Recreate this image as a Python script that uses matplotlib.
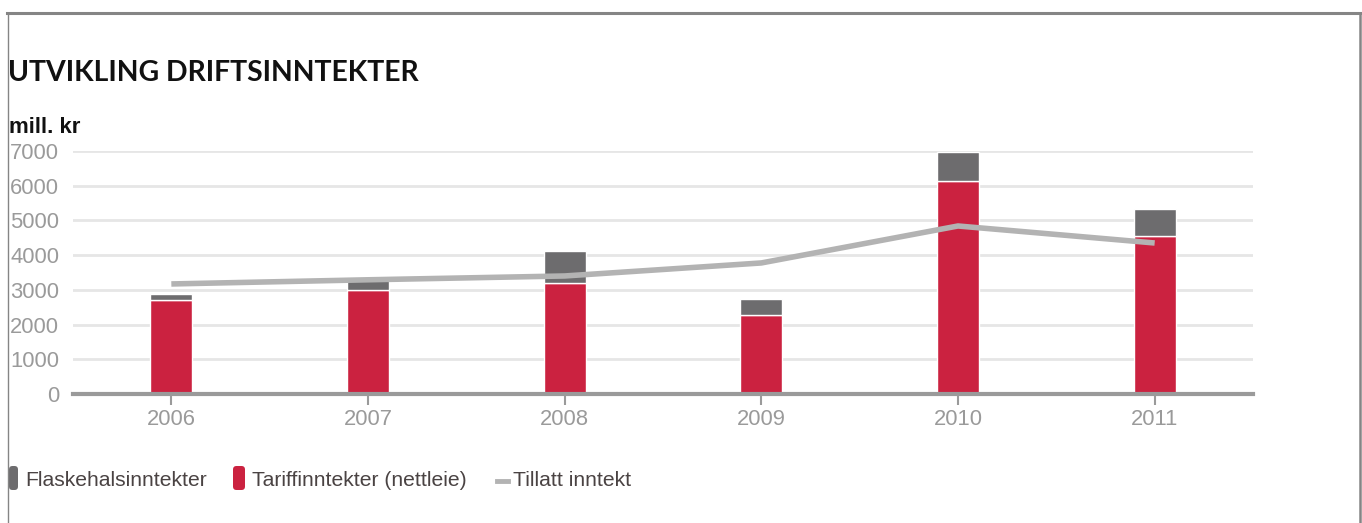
import matplotlib
matplotlib.use("Agg")
import matplotlib.pyplot as plt
from matplotlib.patches import FancyBboxPatch
from matplotlib.lines import Line2D
from matplotlib.transforms import Affine2D

years = ["2006", "2007", "2008", "2009", "2010", "2011"]
tariff = [2700, 3000, 3200, 2280, 6140, 4550]          # Tariffinntekter (nettleie)
flaskehals = [180, 310, 920, 460, 830, 780]           # Flaskehalsinntekter
tillatt = [3170, 3290, 3400, 3775, 4840, 4350]        # Tillatt inntekt
yticks = [0, 1000, 2000, 3000, 4000, 5000, 6000, 7000]

RED = "#cb2240"
DARK = "#6d6c6e"
LINE = "#b3b3b3"
GRID = "#e6e6e6"
AXIS = "#9a9a9a"
TICKTXT = "#9a9a9a"
LEGTXT = "#4a4343"

W, H = 1362, 523
fig = plt.figure(figsize=(W / 100, H / 100), dpi=100)
plt.rcParams["font.family"] = ["Liberation Sans", "DejaVu Sans"]


def fx(x):
    return x / W


def fy(y):
    return 1 - y / H


ax = fig.add_axes([fx(73), fy(394), fx(1253) - fx(73), fy(151) - fy(394)])

pos = [i + 0.5 for i in range(len(years))]
ax.bar(pos, tariff, width=0.215, color=RED, edgecolor="white", linewidth=1.0, zorder=3)
ax.bar(pos, flaskehals, bottom=tariff, width=0.215, color=DARK, edgecolor="white",
       linewidth=1.0, zorder=3, clip_on=False)
ax.plot(pos, tillatt, color=LINE, linewidth=4, solid_capstyle="butt", zorder=4)

ax.set_xlim(0, len(years))
ax.set_ylim(0, 7000)
ax.set_yticks(yticks)
ax.set_yticklabels([str(v) for v in yticks])
ax.set_xticks(pos)
ax.set_xticklabels(years)

ax.grid(axis="y", color=GRID, linewidth=2, zorder=0)
ax.set_axisbelow(True)
for s in ["top", "right", "left"]:
    ax.spines[s].set_visible(False)
ax.spines["bottom"].set_color(AXIS)
ax.spines["bottom"].set_linewidth(3)
ax.spines["bottom"].set_zorder(5)

ax.tick_params(axis="y", length=0, pad=10, labelsize=15.8, labelcolor=TICKTXT)
ax.tick_params(axis="x", length=8, width=1.5, color=AXIS, direction="out", pad=3,
               labelsize=15.8, labelcolor=TICKTXT)

# Titles
fig.text(fx(8), fy(73), "UTVIKLING DRIFTSINNTEKTER", fontsize=20.4, fontweight="bold",
         family=["Lato", "DejaVu Sans"], va="center", ha="left", color="#111111")
fig.text(fx(9), fy(127), "mill. kr", fontsize=16, fontweight="bold",
         va="center", ha="left", color="#111111")

# Frame around the chart
fig.add_artist(Line2D([fx(7), fx(1361)], [fy(13), fy(13)], color="#858585", linewidth=2.2))
fig.add_artist(Line2D([fx(7.5), fx(7.5)], [fy(13), 0], color="#858585", linewidth=1.0))
fig.add_artist(Line2D([fx(1360), fx(1360)], [fy(13), 0], color="#858585", linewidth=1.8))

# Legend (drawn in pixel units)
pix = Affine2D().scale(fig.dpi / 100.0)


def swatch(x0, x1, color):
    p = FancyBboxPatch((x0, H - 490), x1 - x0, 24,
                       boxstyle="round,pad=0,rounding_size=3.5",
                       transform=pix, facecolor=color, edgecolor="none")
    fig.add_artist(p)


swatch(9, 18, DARK)
fig.text(fx(25), fy(481), "Flaskehalsinntekter", fontsize=15.2, color=LEGTXT, va="center", ha="left")
swatch(233, 245, RED)
fig.text(fx(252), fy(481), "Tariffinntekter (nettleie)", fontsize=15.2, color=LEGTXT, va="center", ha="left")
fig.add_artist(Line2D([fx(497), fx(508)], [fy(481), fy(481)], color=LINE, linewidth=3.5))
fig.text(fx(513), fy(481), "Tillatt inntekt", fontsize=15.2, color=LEGTXT, va="center", ha="left")

fig.savefig("out.png", dpi=100, facecolor="white")
